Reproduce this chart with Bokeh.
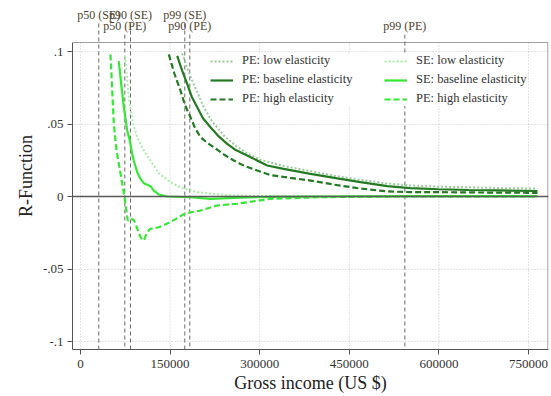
from bokeh.plotting import figure
from bokeh.models import (Range1d, FixedTicker, Span, Legend, LegendItem,
                          LabelSet, ColumnDataSource)
from bokeh.embed import file_html
from bokeh.resources import INLINE

# ---------------- data ----------------
pe_low_x = [170200, 180000, 190000, 206400, 220000, 240000, 260000, 280000, 301300, 340000,
            385000, 430000, 468700, 513500, 552000, 600000, 650000, 700000, 765000]
pe_low_y = [0.0986, 0.087, 0.077, 0.0616, 0.052, 0.042, 0.035, 0.0295, 0.0253, 0.021,
            0.0175, 0.014, 0.0115, 0.009, 0.0076, 0.0068, 0.0063, 0.0058, 0.0055]

pe_base_x = [161900, 170000, 178600, 186000, 195400, 205000, 217600, 230000, 245600, 260000,
             279000, 295000, 312500, 340000, 385000, 430000, 468700, 513500, 552000, 600000,
             650000, 700000, 765000]
pe_base_y = [0.097, 0.087, 0.0777, 0.069, 0.0616, 0.054, 0.0478, 0.042, 0.0363, 0.032,
             0.0283, 0.025, 0.0214, 0.019, 0.0156, 0.0125, 0.0099, 0.0072, 0.0058, 0.005,
             0.0045, 0.0042, 0.0038]

pe_high_x = [147800, 157000, 167400, 175000, 184100, 192000, 200900, 212000, 223200, 240000,
             256600, 275000, 295800, 318000, 340000, 385000, 430000, 468700, 513500, 552000,
             600000, 650000, 700000, 765000]
pe_high_y = [0.098, 0.085, 0.073, 0.063, 0.0547, 0.047, 0.041, 0.037, 0.034, 0.029,
             0.0248, 0.021, 0.0179, 0.0148, 0.0135, 0.011, 0.0078, 0.0055, 0.0035, 0.003,
             0.003, 0.0028, 0.0027, 0.0025]

se_low_x = [74500, 80900, 88000, 94900, 103300, 110000, 117200, 131000, 150700, 167400,
            178600, 195000, 217600, 250000, 300000, 400000, 550000, 765000]
se_low_y = [0.097, 0.068, 0.050, 0.041, 0.034, 0.029, 0.0248, 0.016, 0.0099, 0.0062,
            0.005, 0.003, 0.002, 0.0008, 0.0003, 0.0001, 0.0, 0.0]

se_base_x = [64100, 68100, 72500, 78200, 82500, 86500, 89200, 94900, 100400, 106000,
             111700, 117200, 122700, 131000, 145100, 184000, 217600, 268000, 318000, 400000,
             550000, 765000]
se_base_y = [0.0933, 0.0777, 0.0616, 0.0455, 0.0386, 0.0294, 0.0248, 0.0168, 0.0122, 0.0092,
             0.0081, 0.0071, 0.0041, 0.0014, 0.0, -0.0005, -0.0016, -0.0008, -0.0002, 0.0,
             0.0002, 0.0003]

se_high_x = [50200, 53000, 55800, 58600, 60300, 67000, 73700, 79200, 83700, 89200,
             93700, 99300, 103300, 107100, 111700, 117200, 131000, 150700, 175800, 200900,
             228800, 262000, 318000, 400000, 500000, 765000]
se_high_y = [0.098, 0.074, 0.050, 0.0386, 0.0317, 0.0158, -0.0005, -0.0166, -0.0154, -0.0161,
             -0.0207, -0.0269, -0.0303, -0.0292, -0.0246, -0.0223, -0.0212, -0.0177, -0.0115, -0.0097,
             -0.0062, -0.005, -0.0016, -0.0005, 0.0, 0.0]

pct_labels = ["p50 (SE)", "p50 (PE)", "p90 (SE)", "p99 (SE)", "p90 (PE)", "p99 (PE)"]
pct_values = [30600, 74200, 83700, 174600, 183000, 543000]
pct_group = ["SE", "PE", "SE", "SE", "PE", "PE"]

legend_labels = ["PE: low elasticity", "PE: baseline elasticity", "PE: high elasticity",
                 "SE: low elasticity", "SE: baseline elasticity", "PE: high elasticity"]

xticks = [0, 150000, 300000, 450000, 600000, 750000]
xtick_labels = ["0", "150000", "300000", "450000", "600000", "750000"]
yticks = [-0.1, -0.05, 0, 0.05, 0.1]
ytick_labels = ["-.1", "-.05", "0", ".05", ".1"]

x_title = "Gross income (US $)"
y_title = "R-Function"

# ---------------- style ----------------
FONT = "Liberation Serif"
DARK = "#237a23"
DARK_PALE = "#9ccb9c"
BRIGHT = "#35e835"
BRIGHT_PALE = "#a8eea8"
XPX = 1674.1                     # data units per pixel (horizontal)
X0 = -8 * XPX
X1 = X0 + 476 * XPX
PX = 1 / 1450.0                  # data units per pixel (vertical)
FRAME_TOP, FRAME_BOT, ZERO_PX, BOX_TOP = 2, 349, 196, 42
YTOP = (ZERO_PX - FRAME_TOP) * PX
Y0 = -(FRAME_BOT - ZERO_PX) * PX
Y1 = (ZERO_PX - BOX_TOP) * PX

p = figure(width=551, height=396, output_backend="svg", toolbar_location=None,
           x_range=Range1d(X0, X1), y_range=Range1d(Y0, YTOP),
           min_border_left=72, min_border_right=3, min_border_top=FRAME_TOP,
           min_border_bottom=396 - FRAME_BOT,
           background_fill_color="white", border_fill_color="white")
p.outline_line_color = None

for ax in (p.xaxis[0], p.yaxis[0]):
    ax.axis_line_color = "#555555"
    ax.major_tick_line_color = "#555555"
    ax.major_tick_out = 5
    ax.major_tick_in = 0
    ax.minor_tick_line_color = None
    ax.major_label_text_font = FONT
    ax.major_label_text_font_size = "13px"
    ax.major_label_text_color = "#333333"
    ax.axis_label_text_font = FONT
    ax.axis_label_text_font_style = "normal"
    ax.axis_label_text_font_size = "18px"
    ax.axis_label_text_color = "#222222"

p.xaxis.ticker = FixedTicker(ticks=xticks)
p.xaxis.major_label_overrides = dict(zip(xticks, xtick_labels))
p.xaxis.axis_label = x_title
p.xaxis.major_label_standoff = 5
p.xaxis.axis_label_standoff = 2
p.yaxis.ticker = FixedTicker(ticks=yticks)
p.yaxis.major_label_overrides = dict(zip(yticks, ytick_labels))
p.yaxis.axis_label = y_title
p.yaxis.bounds = (Y0, Y1)
p.yaxis.major_label_standoff = 4
p.yaxis.axis_label_standoff = 4
p.yaxis.major_label_orientation = "horizontal"

p.xgrid.visible = False
p.ygrid.ticker = FixedTicker(ticks=yticks)
p.ygrid.grid_line_color = "#c8c8c8"
p.ygrid.grid_line_dash = "1 2"
p.ygrid.grid_line_width = 1

n = len(xticks)
p.segment(x0=xticks, y0=[Y0] * n, x1=xticks, y1=[Y1] * n, line_color="#c8c8c8",
          line_width=1, line_dash="1 2")

# box around the data area (top and right sides)
p.segment(x0=[X0, X1 - 0.6 * XPX], y0=[Y1, Y0], x1=[X1, X1 - 0.6 * XPX], y1=[Y1, Y1],
          line_color="#a0a0a0", line_width=1.2)

p.add_layout(Span(location=0, dimension="width", line_color="#5a5a5a", line_width=1.5))

# percentile lines and labels
row_label_y = {"SE": YTOP - 16.3 * PX, "PE": YTOP - 27 * PX}
row_stub_y = {"SE": YTOP - 21 * PX, "PE": YTOP - 32 * PX}
m = len(pct_values)
p.segment(x0=pct_values, y0=[row_stub_y[g] for g in pct_group], x1=pct_values, y1=[Y0] * m,
          line_color="#6a6a6a", line_width=1, line_dash="4 3")
lab_src = ColumnDataSource(dict(x=pct_values, y=[row_label_y[g] for g in pct_group],
                                text=pct_labels))
p.add_layout(LabelSet(x="x", y="y", text="text", source=lab_src, text_align="center",
                      text_baseline="alphabetic", text_font=FONT, text_font_size="12px",
                      text_color="#4e4330"))

# curves
r_pe_low = p.line(pe_low_x, pe_low_y, line_color=DARK_PALE, line_width=2, line_dash="2 2")
r_se_low = p.line(se_low_x, se_low_y, line_color=BRIGHT_PALE, line_width=2, line_dash="2 2")
r_pe_base = p.line(pe_base_x, pe_base_y, line_color=DARK, line_width=2.2)
r_pe_high = p.line(pe_high_x, pe_high_y, line_color=DARK, line_width=2.2, line_dash="6 3")
r_se_base = p.line(se_base_x, se_base_y, line_color=BRIGHT, line_width=2.2)
r_se_high = p.line(se_high_x, se_high_y, line_color=BRIGHT, line_width=2.2, line_dash="6 3")

renders = [r_pe_low, r_pe_base, r_pe_high, r_se_low, r_se_base, r_se_high]


def make_legend(items, loc):
    return Legend(items=items, location=loc, orientation="vertical",
                  background_fill_color="white", background_fill_alpha=1.0,
                  border_line_color=None, padding=5, margin=0, spacing=4,
                  glyph_width=23, glyph_height=14, label_height=14, label_standoff=9,
                  label_text_font=FONT, label_text_font_size="12.5px",
                  label_text_color="#333333")


items = [LegendItem(label=l, renderers=[r]) for l, r in zip(legend_labels, renders)]
LEG_Y = FRAME_BOT - 106
p.add_layout(make_legend(items[:3], (138, LEG_Y)))
p.add_layout(make_legend(items[3:], (312, LEG_Y)))

open("out.html", "w").write(file_html(p, INLINE))
